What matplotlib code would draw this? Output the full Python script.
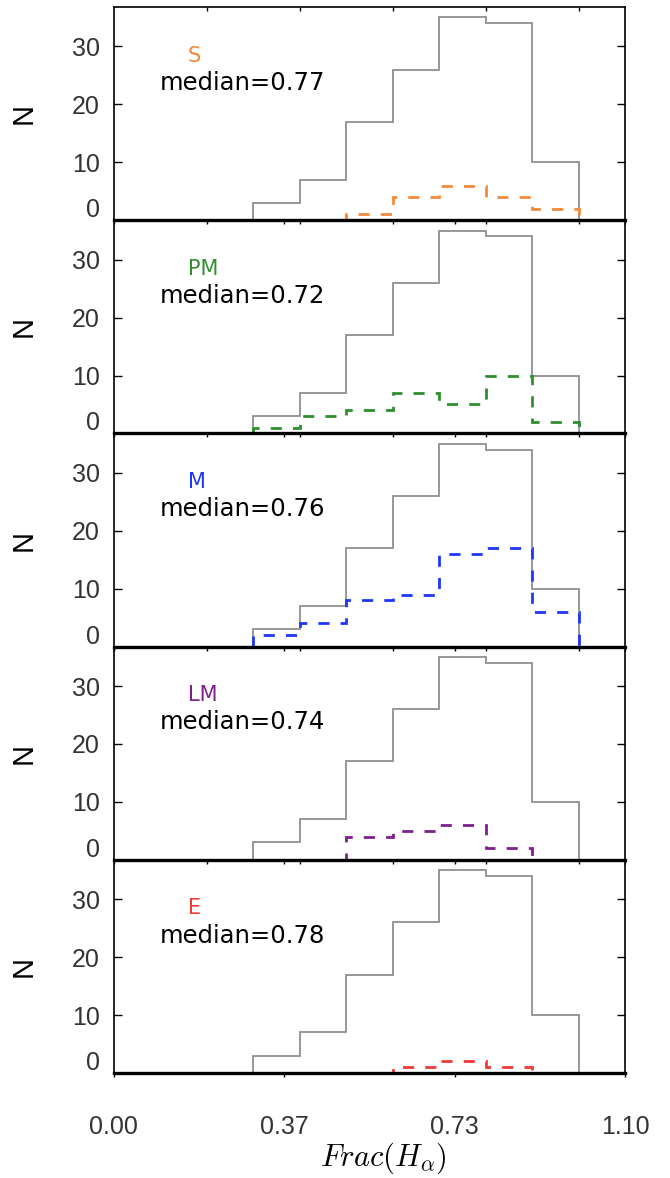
import matplotlib
matplotlib.use("Agg")
import matplotlib.pyplot as plt

plt.rcParams['mathtext.fontset'] = 'cm'

# Datos
frac_edges = [0.3, 0.4, 0.5, 0.6, 0.7, 0.8, 0.9, 1.0]
all_counts = [3, 7, 17, 26, 35, 34, 10]

class_names = ['S', 'PM', 'M', 'LM', 'E']
s_counts = [0, 0, 1, 4, 6, 4, 2]
pm_counts = [1, 3, 4, 7, 5, 10, 2]
m_counts = [2, 4, 8, 9, 16, 17, 6]
lm_counts = [0, 0, 4, 5, 6, 2, 0]
e_counts = [0, 0, 0, 1, 2, 1, 0]
class_counts = [s_counts, pm_counts, m_counts, lm_counts, e_counts]
medians = [0.77, 0.72, 0.76, 0.74, 0.78]
class_colors = ['#f28a3c', '#2f8f2f', '#1f35ff', '#7e1f8e', '#f03a3a']

xticks = [0.0, 1.1 / 3, 2.2 / 3, 1.1]
xtick_labels = ['0.00', '0.37', '0.73', '1.10']
top_ticks = [0.2, 0.4, 0.6, 0.8, 1.0]
yticks = [10, 20, 30]

tick_font = 'Liberation Sans'

fig, axes = plt.subplots(5, 1, figsize=(6.7, 11.78), dpi=100, sharex=True)
fig.subplots_adjust(left=0.170, right=0.933, top=0.994, bottom=0.0891, hspace=0)

for i, ax in enumerate(axes):
    ax.patch.set_facecolor('none')
    ax.stairs(all_counts, frac_edges, color='#909090', lw=1.3)
    ax.stairs(class_counts[i], frac_edges, color=class_colors[i], lw=2.0,
              linestyle=(0, (4, 4)))

    ax.set_xlim(0, 1.1)
    ax.set_ylim(0, 36.8)

    # ejes estilo IDL
    for side in ['left', 'right', 'top']:
        ax.spines[side].set_linewidth(1.2)
    ax.spines['bottom'].set_linewidth(2.4)

    ax.set_xticks(xticks)
    ax.set_xticks(top_ticks, minor=True)
    ax.tick_params(axis='x', which='major', direction='out', length=3, width=1,
                   bottom=True, top=False, pad=27)
    ax.tick_params(axis='x', which='minor', direction='in', length=3, width=1,
                   bottom=False, top=True)
    ax.set_yticks(yticks)
    ax.tick_params(axis='y', direction='in', length=6, width=1, left=True,
                   right=True, pad=10, labelsize=18, labelcolor='#333333')
    for lab in ax.get_yticklabels():
        lab.set_fontfamily(tick_font)
    # etiqueta del 0 (un poco desplazada hacia arriba)
    ax.text(-0.027, 0.047, '0', transform=ax.transAxes, ha='right', va='center',
            fontsize=18, color='#333333', family=tick_font)

    ax.set_ylabel('N', fontsize=21, family=tick_font, rotation=90)
    ax.yaxis.set_label_coords(-0.149, 0.5)

    ax.text(0.145, 0.772, class_names[i], transform=ax.transAxes, ha='left',
            va='center', fontsize=15, color=class_colors[i])
    ax.text(0.090, 0.645, 'median=%.2f' % medians[i], transform=ax.transAxes,
            ha='left', va='center', fontsize=17.5, color='black')

axes[-1].set_xticklabels(xtick_labels)
axes[-1].tick_params(axis='x', labelsize=18, labelcolor='#333333')
for lab in axes[-1].get_xticklabels():
    lab.set_fontfamily(tick_font)
axes[-1].set_xlabel(r'$Frac(H_\alpha)$', fontsize=22)
axes[-1].xaxis.label.set_va('center')
axes[-1].xaxis.set_label_coords(0.526, -0.40)

plt.savefig('out.png', dpi=100)
